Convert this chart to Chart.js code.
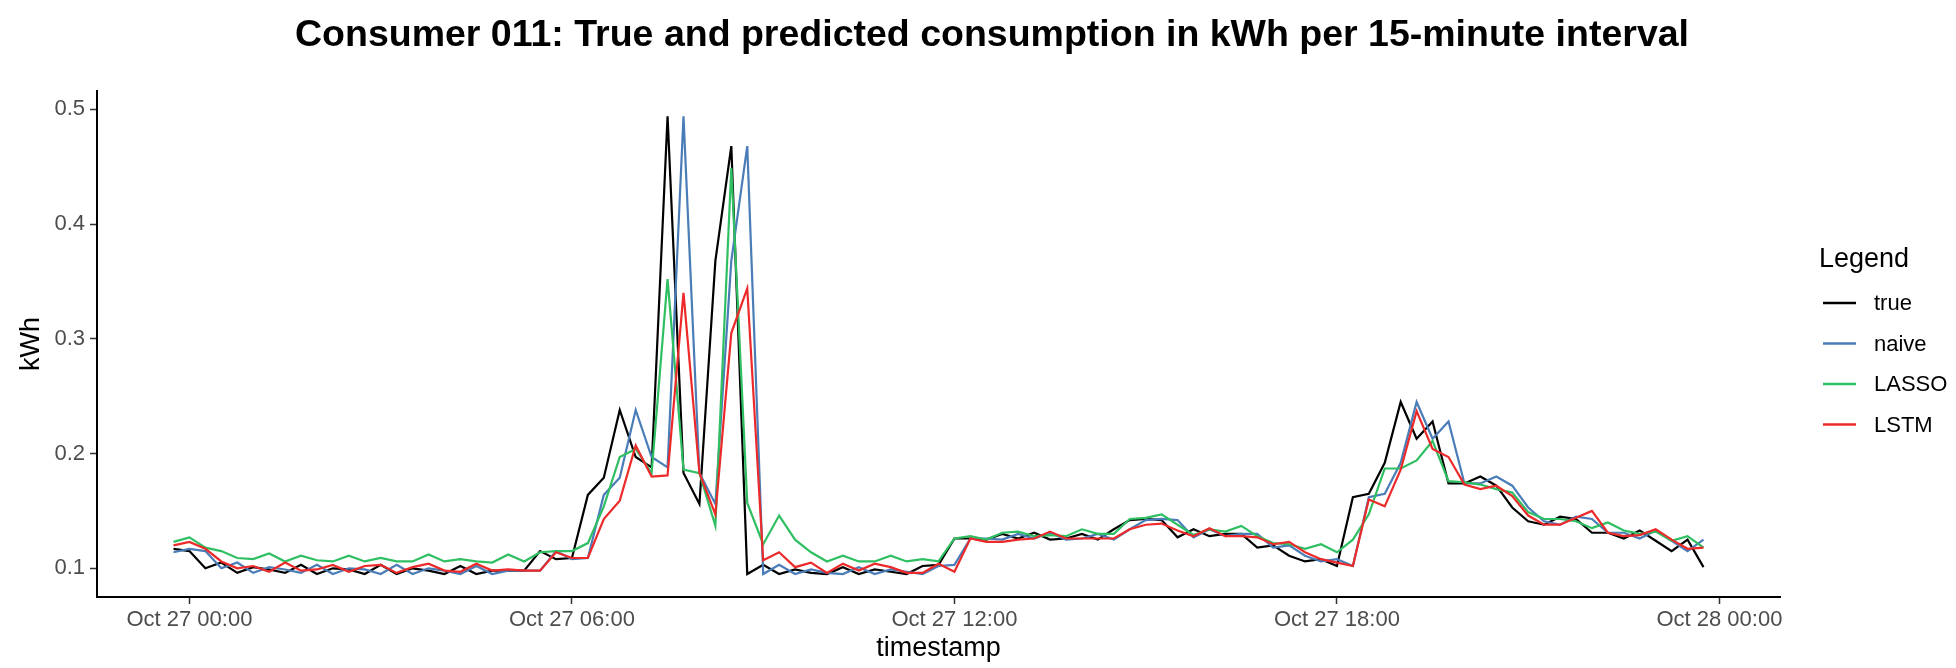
<!DOCTYPE html>
<html>
<head>
<meta charset="utf-8">
<title>Consumer 011 consumption</title>
<script src="https://cdn.jsdelivr.net/npm/chart.js@4.4.1/dist/chart.umd.min.js"></script>
<style>
  html, body { margin: 0; padding: 0; background: #ffffff; }
  #wrap { position: relative; width: 1956px; height: 668px; }
</style>
</head>
<body>
<div id="wrap"><canvas id="consumptionChart" width="1956" height="668"></canvas></div>
<script>
// ── Data (kWh per 15-minute slot, first slot = Oct 26 23:45) ─────────
const FIRST_SLOT = -1;          // slots counted from Oct 27 00:00
const SLOT_HOURS = 0.25;

const TRUE_KWH = [
    0.117, 0.115, 0.100, 0.105, 0.096, 0.101, 0.099, 0.096,
    0.103, 0.095, 0.100, 0.099, 0.095, 0.103, 0.095, 0.100,
    0.098, 0.095, 0.102, 0.095, 0.098, 0.098, 0.098, 0.115,
    0.108, 0.109, 0.164, 0.179, 0.238, 0.197, 0.188, 0.494,
    0.183, 0.156, 0.368, 0.468, 0.095, 0.103, 0.095, 0.099,
    0.096, 0.095, 0.101, 0.095, 0.099, 0.097, 0.095, 0.102,
    0.103, 0.126, 0.126, 0.125, 0.130, 0.126, 0.131, 0.125,
    0.126, 0.130, 0.125, 0.134, 0.142, 0.143, 0.142, 0.127,
    0.134, 0.128, 0.130, 0.130, 0.118, 0.120, 0.111, 0.106,
    0.108, 0.102, 0.162, 0.165, 0.192, 0.245, 0.213, 0.228,
    0.174, 0.174, 0.180, 0.172, 0.153, 0.141, 0.138, 0.145,
    0.143, 0.131, 0.131, 0.126, 0.133, 0.124, 0.115, 0.125,
    0.101
];

const NAIVE_KWH = [
    0.114, 0.117, 0.115, 0.100, 0.105, 0.096, 0.101, 0.099,
    0.096, 0.103, 0.095, 0.100, 0.099, 0.095, 0.103, 0.095,
    0.100, 0.098, 0.095, 0.102, 0.095, 0.098, 0.098, 0.098,
    0.115, 0.108, 0.109, 0.164, 0.179, 0.238, 0.197, 0.188,
    0.494, 0.183, 0.156, 0.368, 0.468, 0.095, 0.103, 0.095,
    0.099, 0.096, 0.095, 0.101, 0.095, 0.099, 0.097, 0.095,
    0.102, 0.103, 0.126, 0.126, 0.125, 0.130, 0.126, 0.131,
    0.125, 0.126, 0.130, 0.125, 0.134, 0.142, 0.143, 0.142,
    0.127, 0.134, 0.128, 0.130, 0.130, 0.118, 0.120, 0.111,
    0.106, 0.108, 0.102, 0.162, 0.165, 0.192, 0.245, 0.213,
    0.228, 0.174, 0.174, 0.180, 0.172, 0.153, 0.141, 0.138,
    0.145, 0.143, 0.131, 0.131, 0.126, 0.133, 0.124, 0.115,
    0.125
];

const LASSO_KWH = [
    0.123, 0.127, 0.118, 0.115, 0.109, 0.108, 0.113, 0.106,
    0.111, 0.107, 0.106, 0.111, 0.106, 0.109, 0.106, 0.106,
    0.112, 0.106, 0.108, 0.106, 0.105, 0.112, 0.106, 0.114,
    0.115, 0.115, 0.122, 0.154, 0.197, 0.204, 0.183, 0.352,
    0.186, 0.183, 0.137, 0.449, 0.157, 0.121, 0.146, 0.125,
    0.114, 0.106, 0.111, 0.106, 0.106, 0.111, 0.106, 0.108,
    0.106, 0.126, 0.128, 0.125, 0.131, 0.132, 0.128, 0.129,
    0.128, 0.134, 0.130, 0.130, 0.143, 0.144, 0.147, 0.138,
    0.129, 0.134, 0.132, 0.137, 0.128, 0.122, 0.121, 0.117,
    0.121, 0.114, 0.125, 0.147, 0.187, 0.187, 0.194, 0.211,
    0.176, 0.175, 0.173, 0.169, 0.166, 0.149, 0.143, 0.143,
    0.141, 0.135, 0.140, 0.133, 0.130, 0.132, 0.124, 0.128,
    0.118
];

const LSTM_KWH = [
    0.120, 0.123, 0.117, 0.106, 0.100, 0.102, 0.097, 0.105,
    0.098, 0.099, 0.103, 0.097, 0.102, 0.103, 0.096, 0.101,
    0.104, 0.098, 0.097, 0.104, 0.098, 0.099, 0.098, 0.098,
    0.114, 0.109, 0.109, 0.143, 0.159, 0.207, 0.180, 0.181,
    0.340, 0.183, 0.147, 0.305, 0.344, 0.107, 0.114, 0.101,
    0.105, 0.096, 0.104, 0.098, 0.104, 0.101, 0.096, 0.096,
    0.104, 0.097, 0.126, 0.123, 0.123, 0.125, 0.126, 0.132,
    0.126, 0.126, 0.126, 0.126, 0.134, 0.138, 0.139, 0.133,
    0.128, 0.135, 0.128, 0.128, 0.127, 0.121, 0.123, 0.114,
    0.108, 0.105, 0.102, 0.160, 0.154, 0.186, 0.237, 0.204,
    0.197, 0.173, 0.169, 0.172, 0.163, 0.146, 0.138, 0.138,
    0.144, 0.150, 0.131, 0.128, 0.129, 0.134, 0.125, 0.117,
    0.118
];

const SERIES_NAMES = ['true', 'naive', 'LASSO', 'LSTM'];
const SERIES_COLORS = ['#000000', '#4a7db8', '#2fbf62', '#ec2a2a'];

const X_TICKS = [0, 6, 12, 18, 24];   // hours after Oct 27 00:00
const X_TICK_LABELS = ['Oct 27 00:00', 'Oct 27 06:00', 'Oct 27 12:00', 'Oct 27 18:00', 'Oct 28 00:00'];
const Y_TICKS = [0.1, 0.2, 0.3, 0.4, 0.5];

// ── Styling ──────────────────────────────────────────────────────
const FONT = '"Liberation Sans", Arial, Helvetica, sans-serif';
const TICK_GREY = '#4d4d4d';

function toPoints(values) {
    return values.map((v, i) => ({ x: (FIRST_SLOT + i) * SLOT_HOURS, y: v }));
}

const seriesValues = [TRUE_KWH, NAIVE_KWH, LASSO_KWH, LSTM_KWH];
const datasets = seriesValues.map((vals, k) => ({
    label: SERIES_NAMES[k],
    data: toPoints(vals),
    borderColor: SERIES_COLORS[k],
    backgroundColor: SERIES_COLORS[k],
    borderWidth: 2.2,
    pointRadius: 0,
    tension: 0,
    order: SERIES_NAMES.length - k   // last series painted on top, like ggplot
}));

// Title drawn centred over the whole figure
const titlePlugin = {
    id: 'figTitle',
    afterDraw(chart) {
        const ctx = chart.ctx;
        ctx.save();
        ctx.fillStyle = '#000';
        ctx.font = 'bold 37.5px ' + FONT;
        ctx.textAlign = 'center';
        ctx.textBaseline = 'middle';
        ctx.fillText('Consumer 011: True and predicted consumption in kWh per 15-minute interval', 992, 36);
        ctx.restore();
    }
};

// ggplot-style legend on the right
const legendPlugin = {
    id: 'sideLegend',
    afterDraw(chart) {
        const ctx = chart.ctx;
        ctx.save();
        ctx.fillStyle = '#000';
        ctx.textBaseline = 'middle';
        ctx.textAlign = 'left';
        ctx.font = '27px ' + FONT;
        ctx.fillText('Legend', 1819, 260);
        ctx.font = '22px ' + FONT;
        chart.data.datasets.forEach((ds, i) => {
            const y = 303 + i * 40.5;
            ctx.strokeStyle = ds.borderColor;
            ctx.lineWidth = 2.4;
            ctx.beginPath();
            ctx.moveTo(1823, y);
            ctx.lineTo(1856, y);
            ctx.stroke();
            ctx.fillStyle = '#000';
            ctx.fillText(ds.label, 1874, y + 1);
        });
        ctx.restore();
    }
};

const ctx = document.getElementById('consumptionChart').getContext('2d');
new Chart(ctx, {
    type: 'line',
    data: { datasets },
    options: {
        responsive: false,
        animation: false,
        events: [],
        layout: { padding: { top: 91, right: 176, left: 0, bottom: 0 } },
        plugins: {
            legend: { display: false },
            tooltip: { enabled: false },
            title: { display: false }
        },
        scales: {
            x: {
                type: 'linear',
                min: -1.45,
                max: 24.95,
                afterBuildTicks: axis => { axis.ticks = X_TICKS.map(v => ({ value: v })); },
                afterFit: axis => { axis.height = 71; },
                ticks: {
                    autoSkip: false,
                    maxRotation: 0,
                    padding: 3,
                    color: TICK_GREY,
                    font: { family: FONT, size: 22 },
                    callback: (v, i) => X_TICK_LABELS[i]
                },
                grid: { drawOnChartArea: false, drawTicks: true, tickLength: 7, tickColor: '#333333', tickWidth: 1.5 },
                border: { display: true, color: '#000000', width: 2 },
                title: {
                    display: true, text: 'timestamp', color: '#000000',
                    font: { family: FONT, size: 27 }, padding: { top: 0, bottom: 3 }
                }
            },
            y: {
                min: 0.075,
                max: 0.516,
                afterBuildTicks: axis => { axis.ticks = Y_TICKS.map(v => ({ value: v })); },
                afterFit: axis => { axis.width = 97; },
                ticks: {
                    padding: 5,
                    color: TICK_GREY,
                    font: { family: FONT, size: 22 },
                    callback: v => v.toFixed(1)
                },
                grid: { drawOnChartArea: false, drawTicks: true, tickLength: 7, tickColor: '#333333', tickWidth: 1.5 },
                border: { display: true, color: '#000000', width: 2 },
                title: {
                    display: true, text: 'kWh', color: '#000000',
                    font: { family: FONT, size: 27 }, padding: { top: 15, bottom: 0 }
                }
            }
        }
    },
    plugins: [titlePlugin, legendPlugin]
});
</script>
</body>
</html>
